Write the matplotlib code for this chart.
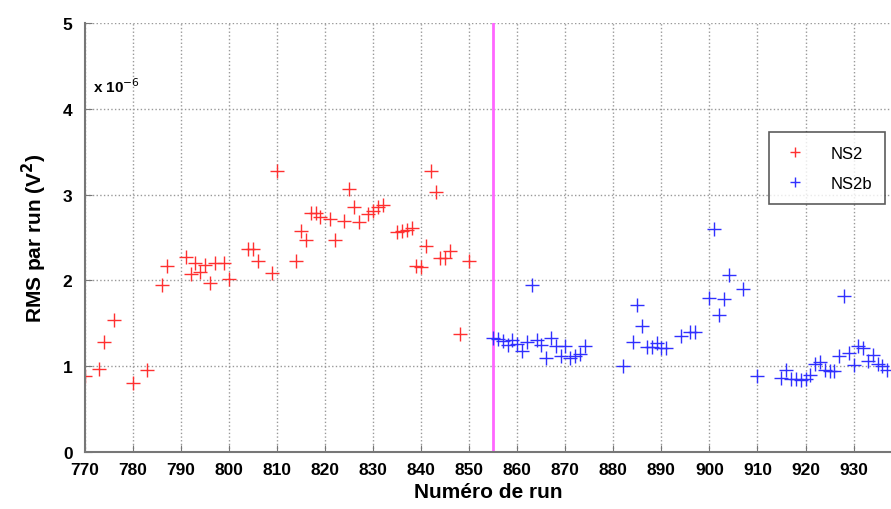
import matplotlib.pyplot as plt
import numpy as np

plt.rcParams['font.family'] = ['Liberation Sans', 'DejaVu Sans']

# NS2 runs (RMS x 1e-6)
ns2_run = [770, 773, 774, 776, 780, 783, 786, 787, 791, 792, 793, 794, 795, 796, 797,
           799, 800, 804, 805, 806, 809, 810, 814, 815, 816, 817, 818, 819, 821, 822,
           824, 825, 826, 827, 829, 830, 831, 832, 835, 836, 837, 838, 839, 840, 841,
           842, 843, 844, 845, 846, 848, 850]
ns2_rms = [0.89, 0.97, 1.28, 1.54, 0.80, 0.95, 1.95, 2.17, 2.27, 2.07, 2.20, 2.10, 2.18,
           1.97, 2.20, 2.20, 2.02, 2.36, 2.36, 2.22, 2.09, 3.27, 2.23, 2.58, 2.47, 2.79,
           2.79, 2.74, 2.72, 2.47, 2.69, 3.06, 2.86, 2.68, 2.77, 2.81, 2.85, 2.88, 2.56,
           2.57, 2.59, 2.61, 2.17, 2.15, 2.40, 3.27, 3.03, 2.26, 2.26, 2.34, 1.37, 2.22]

# NS2b runs
ns2b_run = [855, 856, 857, 858, 859, 860, 861, 862, 863, 864, 865, 866, 867, 868, 869,
            870, 871, 872, 873, 874, 882, 884, 885, 886, 887, 888, 889, 890, 891, 894,
            896, 897, 900, 901, 902, 903, 904, 907, 910, 915, 916, 917, 918, 919, 920,
            921, 922, 923, 924, 925, 926, 927, 928, 929, 930, 931, 932, 933, 934, 935,
            936, 937]
ns2b_rms = [1.33, 1.32, 1.29, 1.25, 1.31, 1.26, 1.18, 1.28, 1.94, 1.31, 1.25, 1.10, 1.33,
            1.23, 1.12, 1.23, 1.10, 1.12, 1.14, 1.23, 1.00, 1.28, 1.71, 1.47, 1.22, 1.22,
            1.27, 1.21, 1.21, 1.35, 1.40, 1.40, 1.79, 2.60, 1.60, 1.78, 2.06, 1.90, 0.89,
            0.86, 0.96, 0.85, 0.85, 0.84, 0.85, 0.90, 1.03, 1.05, 0.95, 0.94, 0.94, 1.12,
            1.82, 1.15, 1.01, 1.23, 1.21, 1.06, 1.13, 1.02, 1.00, 0.95]

separation_run = 855

fig = plt.figure(figsize=(8.91, 5.10), dpi=100)
ax = fig.add_axes([0.0954, 0.112, 0.9046, 0.841])

ax.plot(ns2_run, ns2_rms, '+', color='#ff3030', markersize=10, mew=1.0, label='NS2')
ax.plot(ns2b_run, ns2b_rms, '+', color='#3030ff', markersize=10, mew=1.0, label='NS2b')
ax.axvline(separation_run, color='#ff66ff', lw=2, zorder=1)

ax.set_xlim(770, 937.8)
ax.set_ylim(0, 5)
ax.set_xticks(np.arange(770, 931, 10))
ax.set_yticks(np.arange(0, 6, 1))
ax.grid(True, linestyle=':', color='#999999', lw=1)
ax.set_axisbelow(True)

for s in ['top', 'right']:
    ax.spines[s].set_visible(False)
for s in ['left', 'bottom']:
    ax.spines[s].set_color('#777777')
    ax.spines[s].set_linewidth(1.5)
ax.tick_params(direction='in', length=5, color='#777777', labelsize=12.5)
ax.tick_params(axis='x', pad=7)
ax.tick_params(axis='y', pad=9)
for lbl in ax.get_xticklabels() + ax.get_yticklabels():
    lbl.set_fontweight('bold')

ax.set_xlabel('Numéro de run', fontsize=15, fontweight='bold', labelpad=4)
ax.set_ylabel('RMS par run (V$^\\mathbf{2}$)', fontsize=15, fontweight='bold', labelpad=10)
ax.text(0.01, 0.84, 'x 10$^{-6}$', transform=ax.transAxes, fontsize=11, fontweight='bold')

leg = ax.legend(loc='upper right', bbox_to_anchor=(0.993, 0.745), fontsize=12,
                frameon=True, fancybox=False, edgecolor='#333333', borderpad=0.8,
                labelspacing=0.9, handletextpad=1.3, handlelength=1.6, markerscale=0.75,
                borderaxespad=0)
leg.get_frame().set_linewidth(1.2)

fig.savefig('out.png', dpi=100)
